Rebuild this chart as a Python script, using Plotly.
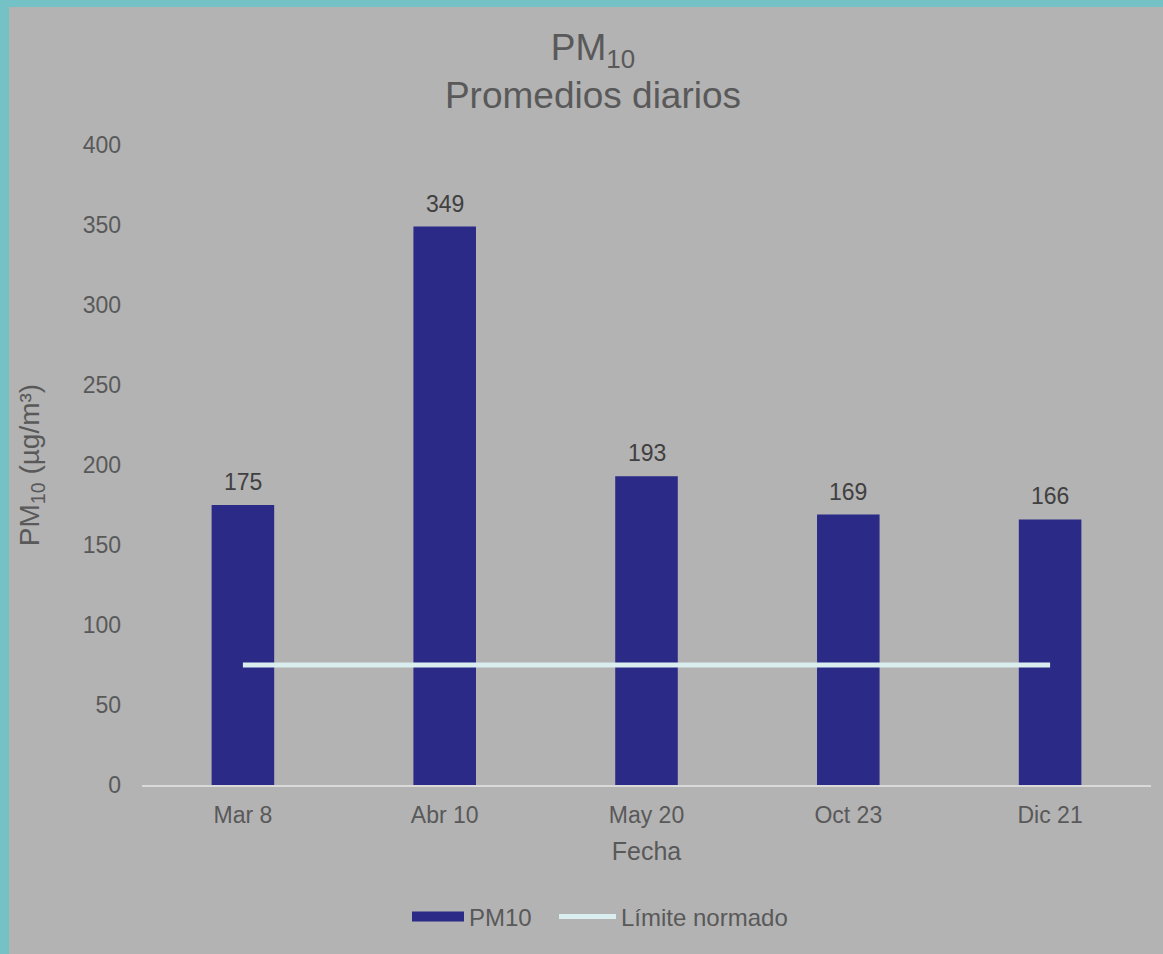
import plotly.graph_objects as go

categories = ["Mar 8", "Abr 10", "May 20", "Oct 23", "Dic 21"]
pm10_values = [175, 349, 193, 169, 166]
limit_values = [75, 75, 75, 75, 75]
y_ticks = [0, 50, 100, 150, 200, 250, 300, 350, 400]

W, H = 1163, 954
L, R, T, B = 142, 12, 145, 169
pw, ph = W - L - R, H - T - B

def px_x(p):
    return (p - L) / pw

def px_y(p):
    return (H - B - p) / ph

FONT = "Liberation Sans, Arial"
TEXT = "#595959"
GRAY = "#B3B3B3"
TEAL = "#74C1C6"
BAR = "#2B2A86"
LINE = "#DAEEF0"

fig = go.Figure()
fig.add_trace(go.Bar(
    x=categories, y=pm10_values, name="PM10", showlegend=False,
    marker=dict(color=BAR, line=dict(width=0)),
))
fig.add_trace(go.Scatter(
    x=categories, y=limit_values, name="Límite normado", mode="lines",
    line=dict(color=LINE, width=5), showlegend=False,
))
# legend entries
fig.add_trace(go.Scatter(
    x=[categories[0]], y=[None], name="PM10", mode="lines",
    line=dict(color=BAR, width=12), legend="legend",
))
fig.add_trace(go.Scatter(
    x=[categories[0]], y=[None], name="Límite normado", mode="lines",
    line=dict(color=LINE, width=5), legend="legend2",
))

# data labels
for c, v in zip(categories, pm10_values):
    fig.add_annotation(
        x=c, y=v, text=str(v), showarrow=False, yanchor="bottom",
        yshift=8, font=dict(size=23, color="#404040", family=FONT),
    )

legend_common = dict(
    orientation="h", yanchor="middle", y=px_y(917), xanchor="left",
    font=dict(size=24, color=TEXT), bgcolor="rgba(0,0,0,0)",
)

fig.update_layout(
    width=W, height=H,
    margin=dict(l=L, r=R, t=T, b=B),
    paper_bgcolor=GRAY, plot_bgcolor=GRAY,
    font=dict(family=FONT, color=TEXT, size=23),
    bargap=0.69,
    showlegend=True,
    title=dict(
        text="PM<sub>10</sub><br>Promedios diarios",
        x=593 / W, xanchor="center", xref="container",
        y=1 - 60 / H, yanchor="top", yref="container",
        font=dict(size=37, color=TEXT, family=FONT),
    ),
    legend=dict(legend_common, x=px_x(407), itemwidth=52),
    legend2=dict(legend_common, x=px_x(554), itemwidth=57),
    xaxis=dict(
        showline=True, linecolor="#D9D9D9", linewidth=2,
        showgrid=False, zeroline=False, ticks="",
        tickfont=dict(size=23, color=TEXT), ticklabelstandoff=8,
        title=dict(text="Fecha", font=dict(size=25, color=TEXT), standoff=16),
    ),
    yaxis=dict(
        range=[0, 400], tickvals=y_ticks, showgrid=False, zeroline=False,
        showline=False, ticks="", tickfont=dict(size=23, color=TEXT),
        ticklabelstandoff=20,
        title=dict(text="PM<sub>10</sub> (µg/m³)", font=dict(size=28, color=TEXT), standoff=34),
    ),
    shapes=[
        dict(type="rect", xref="paper", yref="paper", layer="below",
             x0=px_x(0), x1=px_x(9), y0=px_y(H), y1=px_y(0),
             fillcolor=TEAL, line=dict(width=0)),
        dict(type="rect", xref="paper", yref="paper", layer="below",
             x0=px_x(0), x1=px_x(W), y0=px_y(7), y1=px_y(0),
             fillcolor=TEAL, line=dict(width=0)),
    ],
)

fig.write_html(
    "out.html",
    config={"displayModeBar": False},
    post_script="document.body.style.margin='0';document.body.style.padding='0';",
)
